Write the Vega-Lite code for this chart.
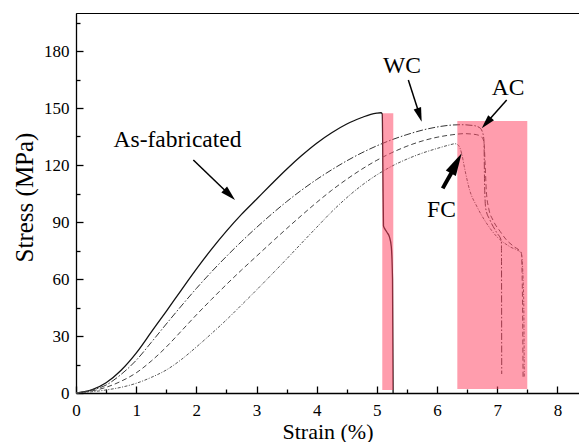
{
  "$schema": "https://vega.github.io/schema/vega-lite/v6.json",
  "width": 504,
  "height": 380,
  "autosize": "none",
  "padding": {"left": 76, "top": 13, "right": 0, "bottom": 49},
  "background": "white",
  "config": {
    "view": {"stroke": "#000", "strokeWidth": 1},
    "font": "Liberation Serif, Times New Roman, serif",
    "axis": {
      "labelFont": "Liberation Serif, Times New Roman, serif",
      "titleFont": "Liberation Serif, Times New Roman, serif",
      "grid": false,
      "domainColor": "#000",
      "tickColor": "#000",
      "labelColor": "#000",
      "titleColor": "#000",
      "titleFontWeight": "normal",
      "labelFlush": false,
      "labelOverlap": false
    }
  },
  "datasets": {
    "curves": [
      {"s":"A","x":0,"y":0},{"s":"A","x":0.25,"y":1.5},{"s":"A","x":0.5,"y":5.4},{"s":"A","x":0.75,"y":12},{"s":"A","x":1.0,"y":21},{"s":"A","x":1.25,"y":32},{"s":"A","x":1.5,"y":43},{"s":"A","x":1.75,"y":54.2},{"s":"A","x":2.0,"y":65.2},{"s":"A","x":2.25,"y":75.6},{"s":"A","x":2.5,"y":85.2},{"s":"A","x":2.75,"y":94},{"s":"A","x":3.0,"y":102},{"s":"A","x":3.25,"y":110},{"s":"A","x":3.5,"y":117.8},{"s":"A","x":3.75,"y":125},{"s":"A","x":4.0,"y":131.5},{"s":"A","x":4.25,"y":137},{"s":"A","x":4.5,"y":141.6},{"s":"A","x":4.75,"y":145},{"s":"A","x":4.9,"y":146.7},{"s":"A","x":5.0,"y":147.3},{"s":"A","x":5.07,"y":147.5},{"s":"A","x":5.09,"y":146.8},{"s":"A","x":5.1,"y":120},{"s":"A","x":5.11,"y":88},{"s":"A","x":5.13,"y":86.5},{"s":"A","x":5.17,"y":84.5},{"s":"A","x":5.21,"y":82},{"s":"A","x":5.24,"y":77},{"s":"A","x":5.26,"y":60},{"s":"A","x":5.27,"y":0},
      {"s":"B","x":0,"y":0},{"s":"B","x":0.25,"y":1.5},{"s":"B","x":0.5,"y":4.2},{"s":"B","x":0.75,"y":9.8},{"s":"B","x":1.0,"y":17.2},{"s":"B","x":1.25,"y":26.6},{"s":"B","x":1.5,"y":36.3},{"s":"B","x":1.75,"y":45.8},{"s":"B","x":2.0,"y":55},{"s":"B","x":2.25,"y":63.7},{"s":"B","x":2.5,"y":71.9},{"s":"B","x":2.75,"y":79.7},{"s":"B","x":3.0,"y":87.1},{"s":"B","x":3.25,"y":94.1},{"s":"B","x":3.5,"y":100.7},{"s":"B","x":3.75,"y":106.8},{"s":"B","x":4.0,"y":112.4},{"s":"B","x":4.25,"y":117.5},{"s":"B","x":4.5,"y":122.2},{"s":"B","x":4.75,"y":126.4},{"s":"B","x":5.0,"y":130.1},{"s":"B","x":5.25,"y":133.3},{"s":"B","x":5.5,"y":136},{"s":"B","x":5.75,"y":138.3},{"s":"B","x":6.0,"y":140},{"s":"B","x":6.2,"y":140.9},{"s":"B","x":6.4,"y":141.2},{"s":"B","x":6.6,"y":140.8},{"s":"B","x":6.7,"y":139.8},{"s":"B","x":6.75,"y":137.8},{"s":"B","x":6.78,"y":133},{"s":"B","x":6.79,"y":110},{"s":"B","x":6.81,"y":97},{"s":"B","x":6.88,"y":91},{"s":"B","x":6.99,"y":84.5},{"s":"B","x":7.07,"y":80},{"s":"B","x":7.075,"y":10},
      {"s":"C","x":0,"y":0},{"s":"C","x":0.25,"y":1},{"s":"C","x":0.5,"y":3},{"s":"C","x":0.75,"y":6.2},{"s":"C","x":1.0,"y":10.6},{"s":"C","x":1.25,"y":16.8},{"s":"C","x":1.5,"y":24.2},{"s":"C","x":1.75,"y":32.6},{"s":"C","x":2.0,"y":41.1},{"s":"C","x":2.25,"y":49.2},{"s":"C","x":2.5,"y":57.1},{"s":"C","x":2.75,"y":64.7},{"s":"C","x":3.0,"y":72},{"s":"C","x":3.25,"y":79.3},{"s":"C","x":3.5,"y":86.5},{"s":"C","x":3.75,"y":93.5},{"s":"C","x":4.0,"y":100.3},{"s":"C","x":4.25,"y":106.7},{"s":"C","x":4.5,"y":112.5},{"s":"C","x":4.75,"y":117.8},{"s":"C","x":5.0,"y":122.5},{"s":"C","x":5.25,"y":126.5},{"s":"C","x":5.5,"y":129.9},{"s":"C","x":5.75,"y":132.6},{"s":"C","x":6.0,"y":134.6},{"s":"C","x":6.25,"y":135.9},{"s":"C","x":6.45,"y":136.5},{"s":"C","x":6.65,"y":136},{"s":"C","x":6.74,"y":134.8},{"s":"C","x":6.78,"y":132},{"s":"C","x":6.8,"y":120},{"s":"C","x":6.82,"y":106},{"s":"C","x":6.86,"y":97},{"s":"C","x":6.93,"y":91},{"s":"C","x":7.05,"y":85},{"s":"C","x":7.15,"y":80.7},{"s":"C","x":7.28,"y":77},{"s":"C","x":7.4,"y":74},{"s":"C","x":7.42,"y":50},{"s":"C","x":7.43,"y":8},
      {"s":"D","x":0,"y":0},{"s":"D","x":0.25,"y":0.6},{"s":"D","x":0.5,"y":1.6},{"s":"D","x":0.75,"y":3},{"s":"D","x":1.0,"y":5.1},{"s":"D","x":1.25,"y":8.2},{"s":"D","x":1.5,"y":12.1},{"s":"D","x":1.75,"y":17.6},{"s":"D","x":2.0,"y":24.2},{"s":"D","x":2.25,"y":31.2},{"s":"D","x":2.5,"y":38.5},{"s":"D","x":2.75,"y":46.3},{"s":"D","x":3.0,"y":54.2},{"s":"D","x":3.25,"y":62.3},{"s":"D","x":3.5,"y":70.5},{"s":"D","x":3.75,"y":78.9},{"s":"D","x":4.0,"y":87.2},{"s":"D","x":4.25,"y":95.4},{"s":"D","x":4.5,"y":102.8},{"s":"D","x":4.75,"y":109.3},{"s":"D","x":5.0,"y":114.8},{"s":"D","x":5.25,"y":119.4},{"s":"D","x":5.5,"y":123.1},{"s":"D","x":5.75,"y":126.2},{"s":"D","x":6.0,"y":128.7},{"s":"D","x":6.2,"y":130.5},{"s":"D","x":6.3,"y":131.2},{"s":"D","x":6.36,"y":130.2},{"s":"D","x":6.41,"y":126},{"s":"D","x":6.46,"y":118},{"s":"D","x":6.54,"y":107},{"s":"D","x":6.66,"y":98.3},{"s":"D","x":6.82,"y":89.5},{"s":"D","x":6.99,"y":82.4},{"s":"D","x":7.21,"y":77},{"s":"D","x":7.4,"y":73.7},{"s":"D","x":7.44,"y":50},{"s":"D","x":7.45,"y":8}
    ],
    "zones": [
      {"x0": 5.09, "x1": 5.273, "y0": 1.6, "y1": 147.2},
      {"x0": 6.337, "x1": 7.5, "y0": 2.1, "y1": 143.2}
    ],
    "arrows": [
      {"name": "As", "x0": 1.95, "y0": 122.6, "x1": 2.546, "y1": 104.5, "tx": 2.643, "ty": 101.6},
      {"name": "WC", "x0": 5.523, "y0": 164.7, "x1": 5.705, "y1": 146.8, "tx": 5.745, "ty": 142.8},
      {"name": "AC", "x0": 7.158, "y0": 154.2, "x1": 6.83, "y1": 142.5, "tx": 6.743, "ty": 139.3},
      {"name": "FC", "x0": 6.094, "y0": 107.7, "x1": 6.315, "y1": 120.1, "tx": 6.41, "ty": 126.2}
    ],
    "labels": [
      {"text": "As-fabricated", "x": 1.687, "y": 129.6},
      {"text": "WC", "x": 5.418, "y": 168.3},
      {"text": "AC", "x": 7.18, "y": 156.8},
      {"text": "FC", "x": 6.074, "y": 92.8}
    ]
  },
  "encoding": {
    "x": {"type": "quantitative", "scale": {"domain": [0, 8.376], "nice": false},
      "axis": {"orient": "bottom", "title": "Strain (%)",
        "values": [0,0.5,1,1.5,2,2.5,3,3.5,4,4.5,5,5.5,6,6.5,7,7.5,8],
        "labelExpr": "datum.value % 1 === 0 ? format(datum.value, 'd') : ''",
        "tickSize": {"condition": {"test": "datum.value % 1 === 0", "value": -7}, "value": -4},
        "tickWidth": 1.3, "domainWidth": 1.3,
        "labelFontSize": 17, "labelPadding": 16, "titleFontSize": 22,
        "titleX": 251.5, "titleY": 45, "titleBaseline": "alphabetic", "titleAlign": "center"}},
    "y": {"type": "quantitative", "scale": {"domain": [0, 200], "nice": false},
      "axis": {"orient": "left", "title": "Stress (MPa)",
        "values": [0,15,30,45,60,75,90,105,120,135,150,165,180,195],
        "labelExpr": "datum.value % 30 === 0 ? format(datum.value, 'd') : ''",
        "tickSize": {"condition": {"test": "datum.value % 30 === 0", "value": -7}, "value": -4},
        "tickWidth": 1.3, "domainWidth": 1.3,
        "labelFontSize": 17, "labelPadding": 14, "titleFontSize": 25,
        "titleX": -52, "titleY": 184, "titleAngle": 270, "titleBaseline": "middle", "titleAlign": "center"}}
  },
  "layer": [
    {
      "data": {"name": "curves"},
      "transform": [{"filter": "datum.s === 'A'"}],
      "mark": {"type": "line", "color": "#111", "strokeWidth": 1.3, "interpolate": "monotone"},
      "encoding": {"x": {"field": "x"}, "y": {"field": "y"}}
    },
    {
      "data": {"name": "curves"},
      "transform": [{"filter": "datum.s === 'B'"}],
      "mark": {"type": "line", "color": "#333", "strokeWidth": 1, "strokeDash": [7, 2, 1.5, 2], "interpolate": "monotone"},
      "encoding": {"x": {"field": "x"}, "y": {"field": "y"}}
    },
    {
      "data": {"name": "curves"},
      "transform": [{"filter": "datum.s === 'C'"}],
      "mark": {"type": "line", "color": "#444", "strokeWidth": 1, "strokeDash": [5, 3], "interpolate": "monotone"},
      "encoding": {"x": {"field": "x"}, "y": {"field": "y"}}
    },
    {
      "data": {"name": "curves"},
      "transform": [{"filter": "datum.s === 'D'"}],
      "mark": {"type": "line", "color": "#555", "strokeWidth": 1, "strokeDash": [3, 1.5, 1, 1.5], "interpolate": "monotone"},
      "encoding": {"x": {"field": "x"}, "y": {"field": "y"}}
    },
    {
      "data": {"name": "zones"},
      "mark": {"type": "rect", "color": "#ff4462", "opacity": 0.52},
      "encoding": {
        "x": {"field": "x0"}, "x2": {"field": "x1"},
        "y": {"field": "y0"}, "y2": {"field": "y1"}
      }
    },
    {
      "data": {"name": "arrows"},
      "transform": [{"filter": "datum.name !== 'FC'"}],
      "mark": {"type": "rule", "color": "#000", "strokeWidth": 1.5},
      "encoding": {
        "x": {"field": "x0"}, "y": {"field": "y0"},
        "x2": {"field": "x1"}, "y2": {"field": "y1"}
      }
    },
    {
      "data": {"name": "arrows"},
      "transform": [{"filter": "datum.name === 'FC'"}],
      "mark": {"type": "rule", "color": "#000", "strokeWidth": 4},
      "encoding": {
        "x": {"field": "x0"}, "y": {"field": "y0"},
        "x2": {"field": "x1"}, "y2": {"field": "y1"}
      }
    },
    {
      "data": {"name": "arrows"},
      "transform": [{"filter": "datum.name === 'As'"}],
      "mark": {"type": "point", "shape": "M0,0L0.55,2L-0.55,2Z", "filled": true, "color": "#000", "opacity": 1, "size": 225, "angle": 133.8},
      "encoding": {"x": {"field": "tx"}, "y": {"field": "ty"}}
    },
    {
      "data": {"name": "arrows"},
      "transform": [{"filter": "datum.name === 'WC'"}],
      "mark": {"type": "point", "shape": "M0,0L0.55,2L-0.55,2Z", "filled": true, "color": "#000", "opacity": 1, "size": 200, "angle": 162.2},
      "encoding": {"x": {"field": "tx"}, "y": {"field": "ty"}}
    },
    {
      "data": {"name": "arrows"},
      "transform": [{"filter": "datum.name === 'AC'"}],
      "mark": {"type": "point", "shape": "M0,0L0.55,2L-0.55,2Z", "filled": true, "color": "#000", "opacity": 1, "size": 200, "angle": 221.5},
      "encoding": {"x": {"field": "tx"}, "y": {"field": "ty"}}
    },
    {
      "data": {"name": "arrows"},
      "transform": [{"filter": "datum.name === 'FC'"}],
      "mark": {"type": "point", "shape": "M0,0L0.5,2L-0.5,2Z", "filled": true, "color": "#000", "opacity": 1, "size": 520, "angle": 28.5},
      "encoding": {"x": {"field": "tx"}, "y": {"field": "ty"}}
    },
    {
      "data": {"name": "labels"},
      "mark": {"type": "text", "font": "Liberation Serif, Times New Roman, serif", "fontSize": 23.5, "color": "#000", "align": "center", "baseline": "alphabetic"},
      "encoding": {"x": {"field": "x"}, "y": {"field": "y"}, "text": {"field": "text"}}
    }
  ]
}
